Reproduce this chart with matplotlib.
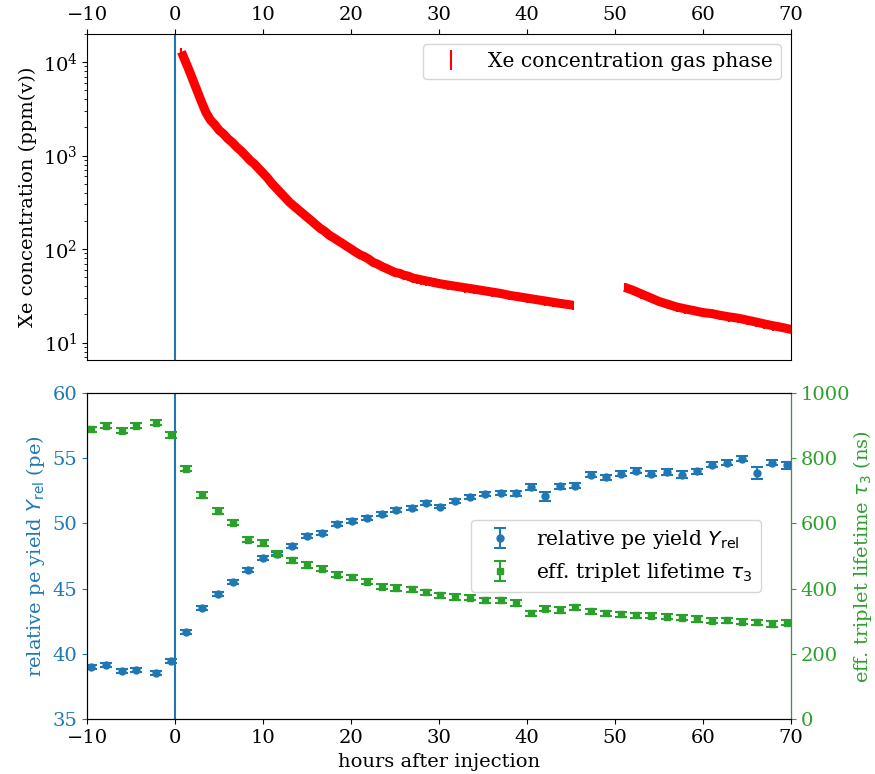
import matplotlib
matplotlib.use('Agg')
import matplotlib.pyplot as plt
import numpy as np

plt.rcParams['font.family'] = 'DejaVu Serif'
plt.rcParams['font.size'] = 14
plt.rcParams['legend.fontsize'] = 14.6
plt.rcParams['mathtext.fontset'] = 'dejavusans'

# Xe concentration in the gas phase (ppm(v))
xe_time_a = [0.7, 1.0, 1.5, 2.0, 2.5, 3.0, 3.5, 4.0, 4.5, 5.0, 5.5, 6.0, 6.5, 7.0, 7.5,
             8.0, 8.5, 9.0, 9.5, 10.0, 10.5, 11.0, 11.5, 12.0, 12.5, 13.0, 13.5, 14.0,
             14.5, 15.0, 15.5, 16.0, 16.5, 17.0, 17.5, 18.0, 18.5, 19.0, 19.5, 20.0,
             20.5, 21.0, 21.5, 22.0, 22.5, 23.0, 23.5, 24.0, 24.5, 25.0, 25.5, 26.0,
             26.5, 27.0, 27.5, 28.0, 28.5, 29.0, 29.5, 30.0, 31, 32, 33, 34, 35, 36,
             37, 38, 39, 40, 41, 42, 43, 44, 45.2]
xe_conc_a = [12900, 11000, 8510, 6460, 4900, 3720, 2880, 2400, 2140, 1860, 1700, 1510,
             1380, 1230, 1120, 1000, 891, 813, 724, 646, 575, 501, 447, 398, 355, 316,
             288, 263, 240, 219, 200, 182, 166, 155, 141, 132, 123, 115, 107, 100, 93,
             87, 83, 78, 72, 69, 65, 62, 59, 56, 55, 52.5, 51.3, 49, 47.9, 46.8, 45.7,
             44.7, 43.7, 42.7, 41.2, 39.8, 38.5, 37.2, 35.9, 34.7, 33.5, 32.0, 30.9,
             29.9, 28.8, 27.9, 26.9, 26.0, 25.1]
xe_time_b = [51.1, 52, 53, 54, 55, 56, 57, 58, 59, 60, 61, 62, 63, 64, 65, 66, 67, 68,
             69, 70]
xe_conc_b = [38.9, 36.3, 33.1, 30.2, 27.5, 25.7, 24.0, 22.9, 21.9, 20.9, 20.4, 19.5,
             18.8, 18.2, 17.4, 16.6, 15.8, 15.1, 14.5, 13.8]
xe_rel_err = 0.11

# bottom panel: relative pe yield and effective triplet lifetime
t_meas = [-9.6, -7.9, -6.1, -4.5, -2.2, -0.45, 1.26, 3.05, 4.83, 6.53, 8.24, 9.98,
          11.58, 13.32, 15.02, 16.7, 18.43, 20.07, 21.78, 23.52, 25.14, 26.9, 28.56,
          30.1, 31.8, 33.5, 35.2, 37.0, 38.7, 40.4, 42.1, 43.8, 45.5, 47.3, 49.0, 50.7,
          52.4, 54.1, 55.9, 57.6, 59.3, 61.0, 62.7, 64.4, 66.2, 67.9, 69.6]
pe_yield = [39.0, 39.15, 38.7, 38.75, 38.55, 39.45, 41.7, 43.55, 44.6, 45.55, 46.45,
            47.35, 47.7, 48.3, 49.05, 49.3, 49.95, 50.2, 50.45, 50.7, 51.05, 51.2, 51.6,
            51.3, 51.75, 52.05, 52.25, 52.35, 52.3, 52.8, 52.1, 52.85, 52.9, 53.75,
            53.55, 53.8, 54.05, 53.8, 53.95, 53.75, 54.0, 54.5, 54.65, 54.95, 53.85,
            54.65, 54.45]
pe_err = [0.15, 0.15, 0.15, 0.15, 0.15, 0.15, 0.15, 0.15, 0.15, 0.15, 0.15, 0.15,
          0.15, 0.15, 0.15, 0.15, 0.15, 0.15, 0.15, 0.15, 0.15, 0.15, 0.15, 0.15,
          0.15, 0.15, 0.15, 0.15, 0.2, 0.2, 0.35, 0.2, 0.2, 0.2, 0.2, 0.2, 0.2, 0.2,
          0.2, 0.25, 0.2, 0.2, 0.2, 0.2, 0.45, 0.2, 0.25]
tau3 = [889, 900, 884, 900, 909, 871, 768, 687, 638, 602, 550, 540, 507, 487, 473,
        461, 443, 435, 422, 406, 402, 398, 389, 380, 375, 373, 364, 365, 356, 325, 339,
        335, 343, 331, 325, 322, 319, 317, 314, 311, 307, 302, 303, 299, 297, 292, 296]
tau3_err = [8] * len(tau3)

c_blue = 'tab:blue'
c_green = 'tab:green'

fig = plt.figure(figsize=(8.75, 7.74), dpi=100)
ax1 = fig.add_axes([0.0998, 0.5349, 0.804, 0.4212])
ax2 = fig.add_axes([0.0998, 0.0707, 0.804, 0.4216])

# top panel
for tt, cc, lab in [(xe_time_a, xe_conc_a, 'Xe concentration gas phase'),
                    (xe_time_b, xe_conc_b, None)]:
    tt = np.array(tt)
    cc = np.array(cc)
    ax1.plot(tt, cc, color='red', lw=6.5, solid_capstyle='butt', zorder=2)
    ax1.errorbar(tt, cc, yerr=xe_rel_err * cc, fmt='none', ecolor='red',
                 elinewidth=1.5, label=lab, zorder=2)
ax1.axvline(0, color=c_blue, lw=1.5)
ax1.set_yscale('log')
ax1.set_ylim(6.5, 2.0e4)
ax1.set_xlim(-10, 70)
ax1.xaxis.tick_top()
ax1.set_ylabel('Xe concentration (ppm(v))')
ax1.legend(loc='upper right')

# bottom panel
ax3 = ax2.twinx()
h1 = ax2.errorbar(t_meas, pe_yield, yerr=pe_err, fmt='o', color=c_blue, ms=5,
                  capsize=4, elinewidth=1.5, capthick=1.5,
                  label=r'relative pe yield $Y_\mathrm{rel}$')
h2 = ax3.errorbar(t_meas, tau3, yerr=tau3_err, fmt='s', color=c_green, ms=5,
                  capsize=4, elinewidth=1.5, capthick=1.5,
                  label=r'eff. triplet lifetime $\tau_3$')
ax2.axvline(0, color=c_blue, lw=1.5)
ax2.set_xlim(-10, 70)
ax2.set_ylim(35, 60)
ax3.set_ylim(0, 1000)
ax2.set_xlabel('hours after injection')
ax2.set_ylabel(r'relative pe yield $Y_\mathrm{rel}$ (pe)', color=c_blue)
ax3.set_ylabel(r'eff. triplet lifetime $\tau_3$ (ns)', color=c_green, labelpad=1)
ax2.tick_params(axis='y', colors=c_blue)
ax3.tick_params(axis='y', colors=c_green)
ax3.spines['right'].set_color(c_green)
ax3.legend([h1, h2], [h1.get_label(), h2.get_label()], loc='center right',
           bbox_to_anchor=(0.972, 0.5))

fig.savefig('out.png', dpi=100)
